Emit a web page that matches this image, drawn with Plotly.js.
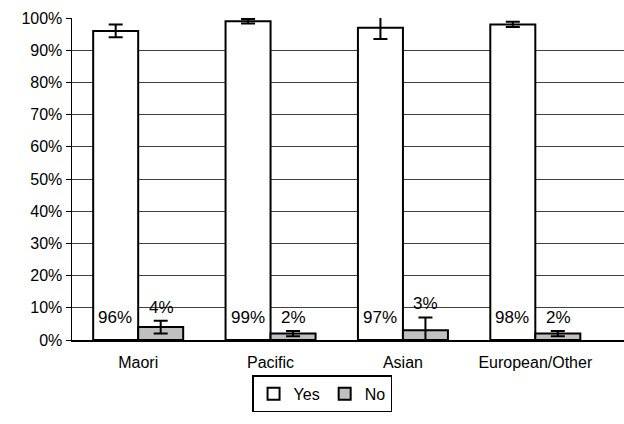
<!DOCTYPE html>
<html>
<head>
<meta charset="utf-8">
<script src="https://cdn.plot.ly/plotly-3.0.1.min.js"></script>
<style>html,body{margin:0;padding:0;background:#fff;}#chart{width:624px;height:424px;}</style>
</head>
<body>
<div id="chart"></div>
<script>
const categories = ['Maori', 'Pacific', 'Asian', 'European/Other'];
const yesValues = [96, 99, 97, 98];
const yesErrors = [2, 0.7, 3.5, 0.8];
const noValues = [4, 2, 3, 2];
const noErrors = [2, 0.8, 4, 0.8];
const yTickVals = [0, 10, 20, 30, 40, 50, 60, 70, 80, 90, 100];
const yTickText = yTickVals.map(v => v + '%');

const FONT = 'Liberation Sans, Arial, sans-serif';
const FS = 16;
const barShift = 23;

const traces = [
  {
    type: 'bar', name: 'Yes', x: categories, y: yesValues,
    marker: {color: '#ffffff', line: {color: '#000000', width: 2}},
    error_y: {type: 'data', array: yesErrors, visible: true, color: '#000000', thickness: 2, width: 7}
  },
  {
    type: 'bar', name: 'No', x: categories, y: noValues,
    marker: {color: '#c0c0c0', line: {color: '#000000', width: 2}},
    error_y: {type: 'data', array: noErrors, visible: true, color: '#000000', thickness: 2, width: 7}
  }
];

const annotations = [];
categories.forEach((c, i) => {
  annotations.push({
    x: c, y: 0, xref: 'x', yref: 'y', text: yesValues[i] + '%',
    showarrow: false, yanchor: 'bottom', xshift: -barShift, yshift: 11,
    font: {family: FONT, size: 17, color: '#000'}
  });
  annotations.push({
    x: c, y: noValues[i] + noErrors[i], xref: 'x', yref: 'y', text: noValues[i] + '%',
    showarrow: false, yanchor: 'bottom', xshift: barShift, yshift: 2,
    font: {family: FONT, size: 17, color: '#000'}
  });
});

const layout = {
  width: 624, height: 424,
  margin: {l: 72, r: 0, t: 18, b: 84},
  paper_bgcolor: '#fff', plot_bgcolor: '#fff',
  font: {family: FONT, size: FS, color: '#000'},
  barmode: 'group', bargap: 0.32, bargroupgap: 0,
  showlegend: true,
  legend: {
    orientation: 'h', x: 0.453, xanchor: 'center', y: -0.11, yanchor: 'top',
    bordercolor: '#000', borderwidth: 1.5, font: {family: FONT, size: FS},
    itemwidth: 30, traceorder: 'normal', tracegroupgap: 0
  },
  xaxis: {
    type: 'category', range: [-0.5, 3.67],
    showline: true, linecolor: '#000', linewidth: 1.5,
    ticks: '', showgrid: false, tickfont: {family: FONT, size: FS},
    ticklabelstandoff: 7
  },
  yaxis: {
    range: [0, 100], tickvals: yTickVals, ticktext: yTickText,
    showline: true, linecolor: '#000', linewidth: 1.5,
    ticks: 'outside', ticklen: 5, tickcolor: '#000', tickwidth: 1,
    showgrid: true, gridcolor: '#404040', gridwidth: 1,
    zeroline: false, tickfont: {family: FONT, size: FS}
  },
  annotations: annotations
};

Plotly.newPlot('chart', traces, layout, {displayModeBar: false, staticPlot: true});
</script>
</body>
</html>
